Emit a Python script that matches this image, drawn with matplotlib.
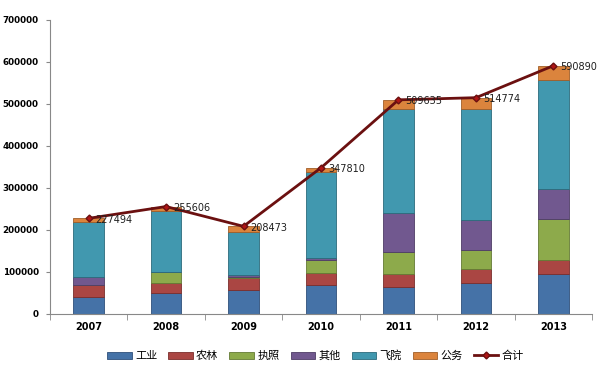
import numpy as np
import matplotlib.pyplot as plt

plt.rcParams['font.family'] = ['DejaVu Sans', 'Noto Sans CJK SC']

years = ['2007', '2008', '2009', '2010', '2011', '2012', '2013']
industry = [41000, 49000, 57000, 69000, 63500, 74600, 95000]
agri = [28000, 25000, 28000, 29000, 32000, 32400, 33600]
license_ = [0, 25000, 2000, 30000, 52000, 45400, 98400]
other = [18000, 1000, 5000, 5000, 92000, 71400, 70600]
academy = [131000, 145000, 104000, 204000, 248000, 263500, 259400]
official = [9494, 10606, 12473, 10810, 22135, 27474, 33890]
total = [227494, 255606, 208473, 347810, 509635, 514774, 590890]

series = [('工业', industry, '#4572A7', '#2F4F7A'),
          ('农林', agri, '#AA4643', '#7A2E2C'),
          ('执照', license_, '#8DAA4B', '#647A34'),
          ('其他', other, '#71588F', '#4E3C66'),
          ('飞院', academy, '#4198AF', '#2C6B7C'),
          ('公务', official, '#DB843D', '#A05E29')]

fig = plt.figure(figsize=(6, 3.68), dpi=100)
ax = fig.add_axes([0.083, 0.147, 0.904, 0.799])

x = np.arange(len(years))
bottom = np.zeros(len(years))
for name, vals, color, edge in series:
    ax.bar(x, vals, width=0.39, bottom=bottom, color=color, edgecolor=edge,
           linewidth=0.6, label=name, zorder=2)
    bottom += np.array(vals)

ax.plot(x, total, color='#6B1010', linewidth=2, marker='D', markersize=3.5,
        markerfacecolor='#B01515', markeredgecolor='#6B1010', label='合计', zorder=3)
for xi, t in zip(x, total):
    ax.annotate(str(t), (xi, t), xytext=(5, -1), textcoords='offset points',
                fontsize=7, va='center', ha='left', color='#202020', zorder=4)

ax.set_xlim(-0.5, 6.5)
ax.set_ylim(0, 700000)
ax.set_yticks(np.arange(0, 700001, 100000))
ax.tick_params(axis='y', labelsize=6.3, length=3, pad=5, color='#888888')
ax.set_xticks(x)
ax.set_xticklabels(years, fontsize=7, fontweight='bold')
ax.set_xticks(np.arange(-0.5, 7, 1), minor=True)
ax.tick_params(axis='x', which='major', length=0, pad=6)
ax.tick_params(axis='x', which='minor', length=4, color='#888888')
for lab in ax.get_yticklabels():
    lab.set_fontweight('bold')
ax.spines['top'].set_visible(False)
ax.spines['right'].set_visible(False)
ax.spines['left'].set_color('#888888')
ax.spines['bottom'].set_color('#888888')

handles, labels = ax.get_legend_handles_labels()
handles = handles[1:] + handles[:1]
labels = labels[1:] + labels[:1]
ax.legend(handles, labels, loc='upper center', bbox_to_anchor=(0.49, -0.09), ncol=7,
          frameon=False, fontsize=8, handlelength=2.2, handleheight=0.6,
          columnspacing=1.0, handletextpad=0.3)

fig.savefig('out.png', dpi=100)
